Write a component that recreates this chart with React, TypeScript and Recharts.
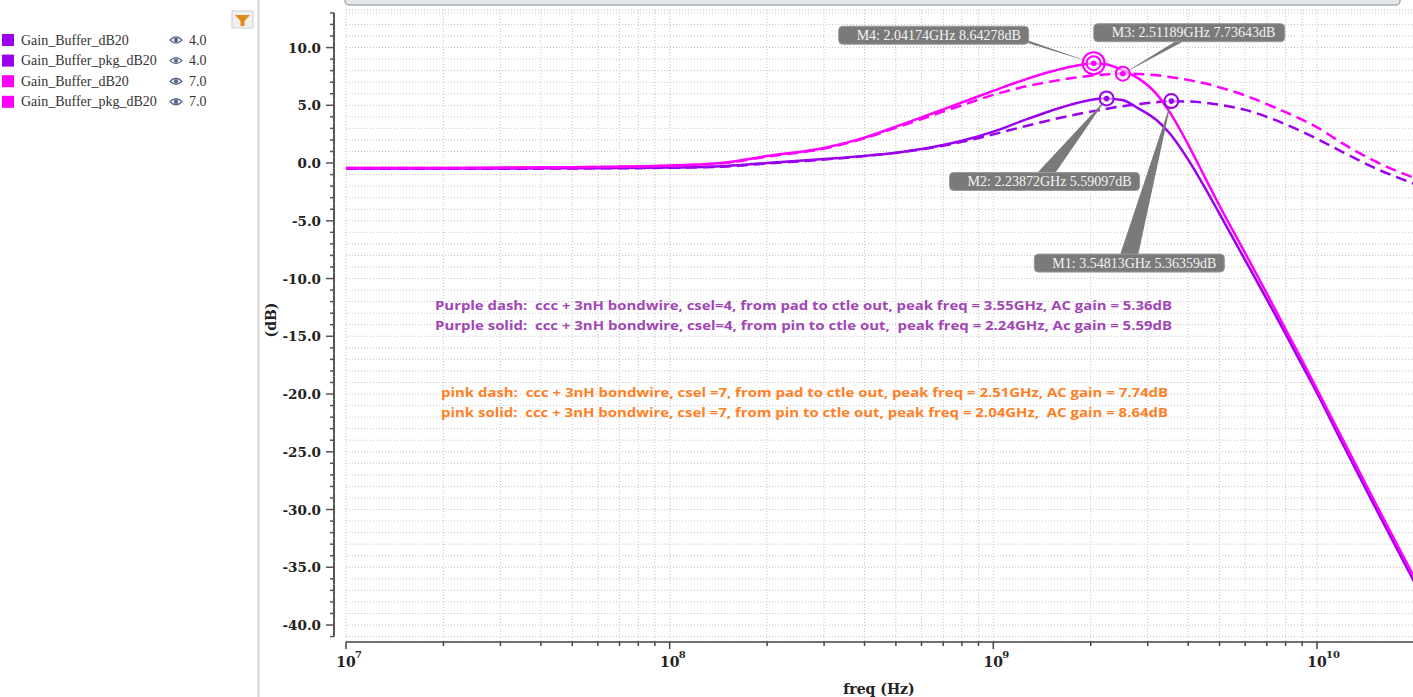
import { LineChart, Line, XAxis, YAxis, CartesianGrid, ReferenceDot } from 'recharts';

// frequency points (Hz)
const FREQ = [
  1e7, 2e7, 5e7, 1e8, 1.5e8, 2e8, 3e8, 4e8, 5e8, 6e8, 7e8, 8e8, 1e9, 1.2e9, 1.5e9, 1.8e9, 2e9, 2.2e9,
  2.5e9, 2.8e9, 3.2e9, 3.5e9, 4e9, 4.5e9, 5e9, 6e9, 7e9, 8e9, 9e9, 1e10, 1.2e10, 1.5e10, 2e10,
];

// Gain_Buffer_dB20, csel=4 (purple solid)
const GAIN_C4 = [
  -0.48, -0.48, -0.45, -0.39, -0.25, 0.0, 0.35, 0.62, 0.9, 1.21, 1.56, 1.93, 2.72, 3.54, 4.51, 5.18, 5.46, 5.58,
  5.45, 4.75, 3.7, 2.6, 0.3, -2.1, -4.4, -8.4, -11.8, -14.8, -17.5, -19.9, -24.3, -29.6, -36.3,
];
// Gain_Buffer_pkg_dB20, csel=4 (purple dash)
const PKG_C4 = [
  -0.5, -0.5, -0.47, -0.41, -0.3, -0.05, 0.3, 0.6, 0.88, 1.18, 1.5, 1.83, 2.48, 3.05, 3.72, 4.2, 4.45, 4.66,
  4.92, 5.1, 5.27, 5.35, 5.33, 5.22, 5.05, 4.6, 4.0, 3.35, 2.72, 2.1, 0.95, -0.4, -1.8,
];
// Gain_Buffer_dB20, csel=7 (magenta solid)
const GAIN_C7 = [
  -0.42, -0.42, -0.36, -0.22, 0.05, 0.6, 1.3, 2.2, 3.15, 3.95, 4.65, 5.25, 6.25, 7.05, 7.9, 8.42, 8.62, 8.57,
  8.05, 7.35, 5.95, 4.45, 1.6, -1.2, -3.7, -7.8, -11.3, -14.4, -17.1, -19.6, -23.9, -29.2, -35.9,
];
// Gain_Buffer_pkg_dB20, csel=7 (magenta dash)
const PKG_C7 = [
  -0.43, -0.43, -0.37, -0.23, 0.03, 0.55, 1.25, 2.15, 3.05, 3.8, 4.45, 5.0, 5.9, 6.5, 7.05, 7.4, 7.56, 7.66,
  7.74, 7.71, 7.6, 7.45, 7.2, 6.9, 6.55, 5.85, 5.1, 4.4, 3.75, 3.1, 1.7, 0.2, -1.3,
];

const MARKER_NAMES = ['M4', 'M3', 'M2', 'M1'];
const MARKER_FREQ = [2.04174e9, 2.51189e9, 2.23872e9, 3.54813e9];
const MARKER_DB = [8.64278, 7.73643, 5.59097, 5.36359];

const LEGEND_NAMES = ['Gain_Buffer_dB20', 'Gain_Buffer_pkg_dB20', 'Gain_Buffer_dB20', 'Gain_Buffer_pkg_dB20'];
const LEGEND_CSEL = ['4.0', '4.0', '7.0', '7.0'];

const NOTES_PURPLE = [
  'Purple dash:  ccc + 3nH bondwire, csel=4, from pad to ctle out, peak freq = 3.55GHz, AC gain = 5.36dB',
  'Purple solid:  ccc + 3nH bondwire, csel=4, from pin to ctle out,  peak freq = 2.24GHz, Ac gain = 5.59dB',
];
const NOTES_PINK = [
  'pink dash:  ccc + 3nH bondwire, csel =7, from pad to ctle out, peak freq = 2.51GHz, AC gain = 7.74dB',
  'pink solid:  ccc + 3nH bondwire, csel =7, from pin to ctle out, peak freq = 2.04GHz,  AC gain = 8.64dB',
];

// axis ticks: every 1 dB, log minor ticks per decade
const Y_TICKS = Array.from({ length: 55 }, (_, i) => i - 41);
const X_TICKS = [
  1e7, 2e7, 3e7, 4e7, 5e7, 6e7, 7e7, 8e7, 9e7,
  1e8, 2e8, 3e8, 4e8, 5e8, 6e8, 7e8, 8e8, 9e8,
  1e9, 2e9, 3e9, 4e9, 5e9, 6e9, 7e9, 8e9, 9e9,
  1e10, 2e10,
];

const data = FREQ.map((f, i) => ({ f, g4: GAIN_C4[i], p4: PKG_C4[i], g7: GAIN_C7[i], p7: PKG_C7[i] }));

const PURPLE = '#9a00ee';
const MAGENTA = '#ff00ff';
const LEGEND_COLORS = [PURPLE, PURPLE, MAGENTA, MAGENTA];

// layout
const CHART_W = 1420;
const CHART_H = 697;
const PLOT_LEFT = 346;
const PLOT_TOP = 10;
const PLOT_BOTTOM = 642;
const Y_MIN = -41.47;
const Y_MAX = 13.25;
const PX_PER_DB = (PLOT_BOTTOM - PLOT_TOP) / (Y_MAX - Y_MIN);
const Y_AXIS_X = PLOT_LEFT - 12;
const AXIS_FONT = '"DejaVu Serif", serif';

// callout layout relative to marker centre: box offset, box width, pointer base points
const CALLOUTS = [
  { dx: -255, dy: -37, w: 190, base: [[-72, -25], [-65, -20]], double: true, color: MAGENTA },
  { dx: -29, dy: -50, w: 191, base: [[52, -32], [60, -32]], double: false, color: MAGENTA },
  { dx: -157, dy: 74, w: 190, base: [[-69, 74], [-51, 74]], double: false, color: PURPLE },
  { dx: -137, dy: 153, w: 190, base: [[-51, 153], [-33, 153]], double: false, color: PURPLE },
];

function YTick(props: any) {
  const { y, payload } = props;
  const v = payload.value;
  const major = v % 5 === 0;
  const half = PX_PER_DB / 2;
  const top = v === Y_TICKS[Y_TICKS.length - 1] ? y : y - half;
  const bottom = v === Y_TICKS[0] ? y : y + half;
  return (
    <g>
      <line x1={Y_AXIS_X} x2={Y_AXIS_X} y1={top} y2={bottom} stroke="#555" strokeWidth={2} />
      <line x1={Y_AXIS_X - (major ? 8 : 4)} x2={Y_AXIS_X} y1={y} y2={y} stroke="#555" strokeWidth={1.5} />
      {major && (
        <text x={Y_AXIS_X - 13} y={y} dy="0.38em" textAnchor="end" fontFamily={AXIS_FONT} fontWeight="bold" fontSize={13.5} fill="#222">
          {v.toFixed(1)}
        </text>
      )}
    </g>
  );
}

function XTick(props: any) {
  const { x, payload } = props;
  const e = Math.log10(payload.value);
  const major = Math.abs(e - Math.round(e)) < 1e-9;
  return (
    <g>
      <line x1={x} x2={x} y1={PLOT_BOTTOM} y2={PLOT_BOTTOM + (major ? 7 : 4)} stroke="#444" strokeWidth={1.5} />
      {major && (
        <g fontFamily={AXIS_FONT} fontWeight="bold" fill="#222">
          <text x={x} y={PLOT_BOTTOM + 25} textAnchor="middle" fontSize={14}>10</text>
          <text x={x + 9} y={PLOT_BOTTOM + 16} fontSize={10}>{Math.round(e)}</text>
        </g>
      )}
    </g>
  );
}

function Marker(props: any) {
  const { cx, cy, idx } = props;
  const c = CALLOUTS[idx];
  const bx = cx + c.dx;
  const by = cy + c.dy;
  const pts = `${cx},${cy} ${cx + c.base[0][0]},${cy + c.base[0][1]} ${cx + c.base[1][0]},${cy + c.base[1][1]}`;
  const label = `${MARKER_NAMES[idx]}: ${(MARKER_FREQ[idx] / 1e9).toFixed(5)}GHz ${MARKER_DB[idx].toFixed(5)}dB`;
  return (
    <g>
      <polygon points={pts} fill="#7a7a7a" />
      <rect x={bx} y={by} width={c.w} height={18} rx={4} fill="#7a7a7a" stroke="#9a9a9a" />
      <text x={bx + 18} y={by + 13.5} fontFamily='"Liberation Serif", serif' fontSize={14} fill="#f4f4f4">
        {label}
      </text>
      {c.double && <circle cx={cx} cy={cy} r={11} fill="none" stroke={c.color} strokeWidth={2} />}
      <circle cx={cx} cy={cy} r={7} fill="rgba(255,255,255,0.55)" stroke={c.color} strokeWidth={2} />
      <circle cx={cx} cy={cy} r={2.8} fill={c.color} />
    </g>
  );
}

function Eye({ x, y }: { x: number; y: number }) {
  return (
    <g>
      <path d={`M${x - 6},${y} Q${x},${y - 6} ${x + 6},${y} Q${x},${y + 6} ${x - 6},${y} Z`} fill="#fff" stroke="#5a6b8c" strokeWidth={1.3} />
      <circle cx={x} cy={y} r={2.2} fill="#5a6b8c" />
    </g>
  );
}

export default function App() {
  return (
    <div style={{ position: 'absolute', left: 0, top: 0, width: 1413, height: 697, overflow: 'hidden', background: '#fff' }}>
      <div style={{ position: 'absolute', left: 0, top: 0 }}>
        <LineChart width={CHART_W} height={CHART_H} data={data} margin={{ top: PLOT_TOP, right: 5.6, bottom: 0, left: 0 }}>
          <CartesianGrid stroke="#c4c4c4" strokeDasharray="1 2" />
          <XAxis
            dataKey="f"
            type="number"
            scale="log"
            domain={[1e7, 2e10]}
            allowDataOverflow
            ticks={X_TICKS}
            interval={0}
            height={CHART_H - PLOT_BOTTOM}
            tick={<XTick />}
            tickLine={false}
            axisLine={{ stroke: '#444', strokeWidth: 1.5 }}
          />
          <YAxis
            type="number"
            domain={[Y_MIN, Y_MAX]}
            allowDataOverflow
            ticks={Y_TICKS}
            interval={0}
            width={PLOT_LEFT}
            tick={<YTick />}
            tickLine={false}
            axisLine={false}
          />
          <Line dataKey="g4" type="monotone" stroke={PURPLE} strokeWidth={2.5} dot={false} isAnimationActive={false} />
          <Line dataKey="p4" type="monotone" stroke={PURPLE} strokeWidth={2.5} strokeDasharray="11 6" dot={false} isAnimationActive={false} />
          <Line dataKey="g7" type="monotone" stroke={MAGENTA} strokeWidth={2.5} dot={false} isAnimationActive={false} />
          <Line dataKey="p7" type="monotone" stroke={MAGENTA} strokeWidth={2.5} strokeDasharray="11 6" dot={false} isAnimationActive={false} />
          {MARKER_FREQ.map((f, i) => (
            <ReferenceDot key={MARKER_NAMES[i]} x={f} y={MARKER_DB[i]} shape={(p: any) => <Marker {...p} idx={i} />} />
          ))}
        </LineChart>
      </div>
      <svg width={1413} height={697} style={{ position: 'absolute', left: 0, top: 0, pointerEvents: 'none' }}>
        {/* toolbar edge and panel separator */}
        <rect x={345} y={-12} width={1055} height={17} rx={4} fill="#e4e6e8" stroke="#a4acb4" strokeWidth={1.5} />
        <line x1={258.5} x2={258.5} y1={0} y2={697} stroke="#d4d4d4" strokeWidth={2} />
        {/* filter button */}
        <rect x={232} y={11} width={21} height={17} fill="#f0f0f0" stroke="#cfcfcf" />
        <path d="M235,15 L250,15 L244.5,21 L244.5,26 L240.5,26 L240.5,21 Z" fill="#e8891c" />
        {/* legend */}
        {LEGEND_NAMES.map((n, i) => {
          const cy = 40 + i * 20.6;
          return (
            <g key={i}>
              <rect x={2} y={cy - 6} width={12} height={12} fill={LEGEND_COLORS[i]} />
              <text x={21} y={cy + 4.5} fontFamily='"Liberation Serif", serif' fontSize={14} fill="#333">{n}</text>
              <Eye x={176} y={cy} />
              <text x={189} y={cy + 4.5} fontFamily='"Liberation Serif", serif' fontSize={14} fill="#333">{LEGEND_CSEL[i]}</text>
            </g>
          );
        })}
        {/* axis titles */}
        <text x={879} y={694} textAnchor="middle" fontFamily={AXIS_FONT} fontWeight="bold" fontSize={14} fill="#222">freq (Hz)</text>
        <text x={276} y={320} textAnchor="middle" transform="rotate(-90 276 320)" fontFamily={AXIS_FONT} fontWeight="bold" fontSize={14} fill="#222">(dB)</text>
        {/* annotations */}
        <g fontFamily='"Open Sans", sans-serif' fontWeight="bold" fontSize={12.5}>
          {NOTES_PURPLE.map((t, i) => (
            <text key={t} x={435} y={310 + i * 20} fill="#a146b4" textLength={737} lengthAdjust="spacingAndGlyphs" style={{ whiteSpace: 'pre' }}>{t}</text>
          ))}
          {NOTES_PINK.map((t, i) => (
            <text key={t} x={441} y={397 + i * 20} fill="#ff7f27" textLength={727} lengthAdjust="spacingAndGlyphs" style={{ whiteSpace: 'pre' }}>{t}</text>
          ))}
        </g>
      </svg>
    </div>
  );
}
